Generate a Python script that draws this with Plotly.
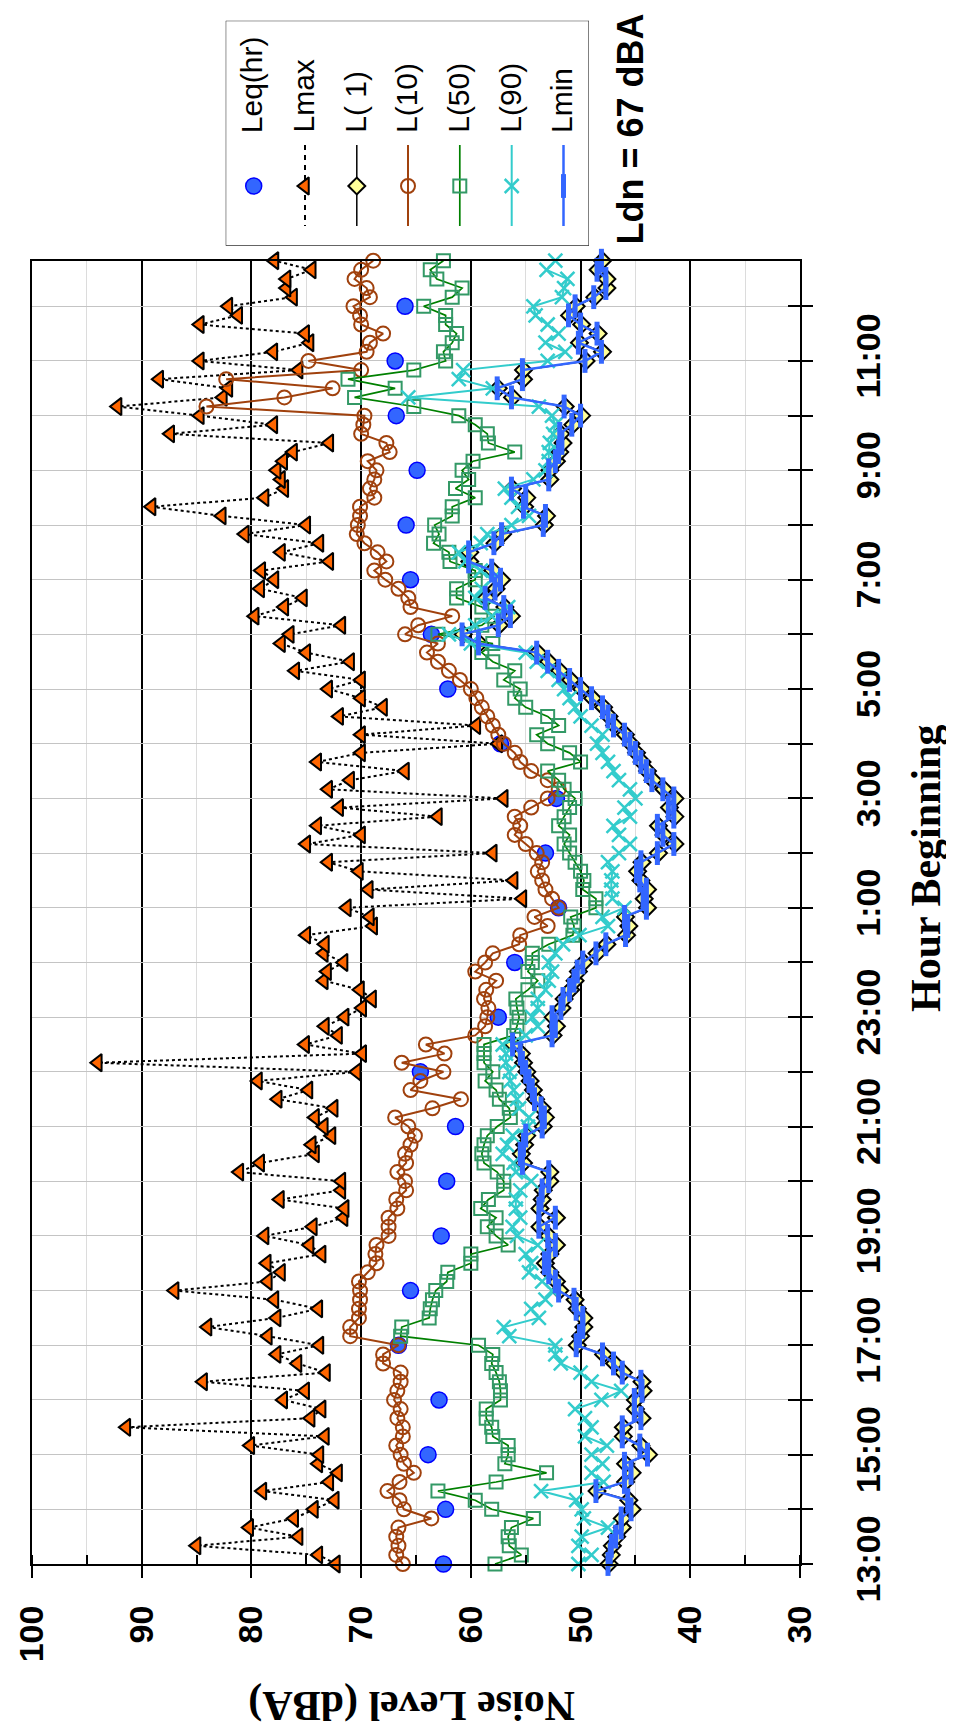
import plotly.graph_objects as go

# ---------------- data ----------------
hour_labels = ["13:00", "15:00", "17:00", "19:00", "21:00", "23:00",
               "1:00", "3:00", "5:00", "7:00", "9:00", "11:00"]
n_int = 144                      # 10-minute intervals, 13:00 .. 12:50
t_int = [k / 6 for k in range(n_int)]   # hours after 13:00
t_hour = list(range(24))

leq = [62.5, 62.3, 63.9, 62.9, 66.6, 65.5, 62.7, 62.2, 61.4, 64.6, 57.5, 56.0,
       52.0, 53.2, 52.2, 57.3, 62.1, 63.6, 65.5, 65.9, 64.9, 66.8, 66.9, 66.0]

lmax = [72.3, 73.9, 85.0, 75.7, 80.2, 76.1, 74.3, 72.4, 79.0, 72.9, 72.1, 73.9,
        73.8, 80.1, 73.3, 91.4, 74.6, 73.6, 77.1, 75.1, 84.4, 73.2, 75.8,
        77.7, 73.8, 78.5, 84.0, 77.7, 73.9, 77.9, 87.0, 78.5, 77.3, 78.6, 73.6,
        74.7, 78.8, 74.4, 71.6, 71.5, 77.4, 71.8, 71.8, 81.1, 79.2, 74.2, 74.5,
        72.7, 73.4, 74.2, 72.5, 77.6, 74.8, 79.4, 70.4, 94.0, 69.9, 75.1, 72.1,
        73.3, 71.5, 69.9, 69.0, 70.1, 73.4, 73.1, 71.6, 73.4, 73.3, 75.0, 68.9,
        69.2, 71.3, 55.3, 69.3, 56.1, 70.2,
        73.0, 58.0, 75.0, 70.0, 74.0, 63.0, 72.0, 57.0, 73.0, 71.0, 66.0, 74.0,
        70.0, 57.5, 70.0, 59.5, 72.0, 68.0, 70.0, 73.0, 70.0, 76.0, 71.0, 75.0,
        77.3, 76.5, 71.8, 79.7, 77.0, 75.3, 79.2, 77.9, 79.1, 72.9, 77.3, 73.8,
        80.6, 75.0, 82.7, 89.1, 78.8, 77.0, 77.3, 77.7, 77.1, 76.2, 72.9, 87.4,
        78.0, 84.7, 92.2, 82.6, 82.1, 88.4, 75.7, 84.7, 78.0, 74.7, 75.1, 84.7,
        81.2, 82.1, 76.2, 76.8, 76.8, 74.5, 77.9]

l10 = [66.2, 66.8, 66.6, 66.8, 66.6, 63.6, 66.1, 66.5, 67.6, 66.5, 65.2, 66.1,
       66.4, 66.8, 66.2, 66.2, 66.7, 66.4, 67.0, 66.7, 66.4, 66.4, 68.0,
       68.0, 66.6, 71.0, 71.0, 70.2, 70.2, 70.1, 70.1, 70.2, 69.4, 68.6, 68.7,
       68.6, 67.5, 67.5, 67.5, 66.7, 66.8, 65.9, 66.0, 66.7, 65.9, 66.0, 65.5,
       65.1, 65.7, 66.9, 63.5, 60.9, 65.5, 64.6, 62.5, 66.3, 62.4, 64.1, 59.6,
       58.7, 58.5, 58.4, 58.8, 58.6, 57.7, 59.6, 58.7, 58.0, 55.6, 55.5, 53.0,
       54.2, 52.0, 52.6, 53.2, 53.5, 53.9,
       53.5, 54.0, 55.0, 56.0, 55.5, 56.0, 54.5, 53.0, 52.0, 53.0, 54.5, 55.5,
       56.0, 57.0, 57.5, 58.0, 58.5, 59.0, 59.5, 60.0, 61.0, 62.0, 63.0, 64.0,
       63.0, 66.0, 64.8, 61.7, 65.5, 65.7, 66.6, 67.8, 68.8, 67.7, 68.5, 69.7,
       70.4, 70.3, 70.1, 70.1, 68.8, 69.2, 68.8, 68.6, 69.4, 67.4, 67.7, 70.0,
       69.8, 69.7, 84.1, 77.0, 72.6, 82.3, 70.0, 74.8, 69.5, 69.2, 68.0, 70.0,
       70.1, 70.7, 69.2, 69.5, 70.6, 70.0, 68.9]

l50 = [57.8, 55.4, 56.5, 56.6, 56.3, 54.3, 58.1, 59.6, 63.0, 57.7, 53.1, 56.9,
       56.6, 56.6, 58.0, 58.1, 58.6, 58.6, 57.3, 57.3, 57.4, 57.7, 58.1,
       58.0, 59.3, 66.4, 66.3, 63.8, 63.7, 63.5, 63.2, 62.2, 62.1, 60.0, 60.0,
       56.6, 57.7, 58.5, 57.7, 59.1, 58.4, 57.0, 57.0, 57.6, 58.8, 59.0, 58.8,
       58.5, 57.6, 56.4, 56.5, 57.4, 57.7, 58.7, 58.0, 58.8, 58.8, 58.8, 56.1,
       55.8, 55.6, 55.8, 55.9, 54.8, 53.9, 54.8, 54.4, 54.4, 52.9, 50.7, 50.6,
       50.9, 48.6, 48.6, 49.8, 49.7, 50.0,
       50.5, 51.0, 51.5, 51.0, 52.0, 51.5, 51.0, 50.5, 51.5, 52.0, 53.0, 50.0,
       51.0, 53.0, 54.0, 52.0, 53.0, 55.0, 56.0, 55.5, 57.0, 56.0, 58.0, 59.0,
       58.0, 63.0, 59.0, 57.9, 59.0, 61.3, 61.3, 59.6, 59.6, 61.9, 62.0, 63.4,
       62.9, 63.3, 61.7, 61.7, 59.6, 61.4, 60.2, 60.8, 59.8, 56.0, 58.4, 58.5,
       59.6, 61.1, 65.2, 70.6, 66.9, 71.2, 65.2, 62.3, 62.5, 61.7, 61.3, 62.3,
       62.3, 64.3, 61.7, 60.8, 63.1, 63.7, 62.5]

l90 = [50.2, 49.0, 50.2, 49.9, 47.5, 49.7, 49.9, 50.4, 53.6, 47.9, 49.0, 48.0,
       49.0, 47.6, 49.6, 49.0, 49.6, 50.5, 48.1, 46.3, 49.0, 50.0, 51.8,
       52.3, 52.3, 56.5, 57.0, 53.8, 54.5, 53.2, 52.6, 53.5, 54.7, 54.5, 55.0,
       53.9, 55.8, 56.2, 55.5, 55.9, 55.9, 55.5, 54.5, 55.9, 56.1, 57.1, 56.7,
       56.2, 54.8, 54.7, 55.6, 55.8, 56.1, 56.4, 56.5, 56.8, 56.8, 57.1, 55.0,
       53.9, 54.4, 53.9, 53.9, 53.2, 52.9, 52.6, 52.9, 52.3, 51.6, 50.1, 47.5,
       48.0, 46.0, 47.1, 47.2, 47.2, 47.1,
       47.5, 46.5, 45.5, 46.5, 47.0, 45.5, 46.0, 45.0, 45.5, 46.5, 47.0, 47.5,
       48.0, 48.5, 48.0, 49.0, 50.0, 50.5, 51.0, 51.5, 52.0, 53.0, 54.0, 55.0,
       60.0, 62.0, 59.6, 58.1, 56.6, 59.6, 59.0, 58.1, 59.1, 60.5, 61.1, 59.1,
       58.5, 56.3, 54.7, 55.7, 56.3, 56.9, 54.3, 53.2, 52.9, 52.9, 52.8, 52.5,
       52.3, 52.6, 53.8, 65.7, 58.0, 61.1, 60.7, 53.0, 51.4, 53.2, 52.0, 53.0,
       54.1, 54.3, 51.7, 51.5, 51.2, 53.1, 52.3]

lmin = [47.5, 47.3, 47.2, 46.8, 46.3, 46.3, 45.4, 45.7, 48.6, 46.0, 45.4, 46.0,
        43.9, 44.6, 46.2, 46.2, 44.5, 45.1, 45.1, 44.4, 44.5, 46.2, 47.0,
        48.0, 50.4, 50.1, 49.8, 49.8, 50.4, 50.6, 52.0, 52.3, 52.9, 53.3, 52.9,
        52.3, 53.0, 53.8, 52.3, 53.8, 53.6, 53.5, 52.9, 52.9, 55.3, 55.5, 55.2,
        55.0, 53.5, 53.3, 53.6, 54.2, 54.4, 54.7, 55.0, 55.3, 55.5, 56.2, 52.6,
        52.3, 52.6, 51.8, 51.6, 51.0, 50.6, 50.3, 49.8, 48.6, 47.7, 45.9, 45.7,
        46.0, 44.0, 44.3, 44.0, 44.6, 44.9,
        44.5, 43.0, 41.5, 42.5, 43.0, 41.5, 42.0, 41.5, 42.5, 43.5, 44.0, 44.5,
        45.0, 45.5, 46.0, 47.0, 47.5, 48.0, 49.0, 50.0, 51.0, 52.0, 53.0, 54.0,
        59.3, 60.8, 57.5, 56.4, 57.0, 58.7, 57.8, 57.3, 58.1, 60.2, 60.2, 57.9,
        57.2, 53.4, 53.2, 55.2, 55.0, 56.3, 52.9, 52.9, 52.3, 52.0, 51.7, 51.9,
        50.8, 50.0, 51.5, 56.3, 57.6, 55.3, 55.3, 49.6, 48.1, 50.2, 48.5, 50.0,
        51.1, 50.5, 48.8, 47.7, 47.7, 48.5, 48.1]

# L(1) markers sit on top of Lmin in the source chart
l1 = [47.4, 47.2, 47.1, 46.7, 46.2, 46.2, 45.3, 45.6, 48.5, 45.9, 45.3, 45.9,
      43.8, 44.5, 46.1, 46.1, 44.4, 45.0, 45.0, 44.3, 44.4, 46.1, 46.9,
      47.9, 50.3, 50.0, 49.7, 49.7, 50.3, 50.5, 51.9, 52.2, 52.8, 53.2, 52.8,
      52.2, 52.9, 53.7, 52.2, 53.7, 53.5, 53.4, 52.8, 52.8, 55.2, 55.4, 55.1,
      54.9, 53.4, 53.2, 53.5, 54.1, 54.3, 54.6, 54.9, 55.2, 55.4, 56.1, 52.5,
      52.2, 52.5, 51.7, 51.5, 50.9, 50.5, 50.2, 49.7, 48.5, 47.6, 45.8, 45.6,
      45.9, 43.9, 44.2, 43.9, 44.5, 44.8,
      44.4, 42.9, 41.4, 42.4, 42.9, 41.4, 41.9, 41.4, 42.4, 43.4, 43.9, 44.4,
      44.9, 45.4, 45.9, 46.9, 47.4, 47.9, 48.9, 49.9, 50.9, 51.9, 52.9, 53.9,
      59.2, 60.7, 57.4, 56.3, 56.9, 58.6, 57.7, 57.2, 58.0, 60.1, 60.1, 57.8,
      57.1, 53.3, 53.1, 55.1, 54.9, 56.2, 52.8, 52.8, 52.2, 51.9, 51.6, 51.8,
      50.7, 49.9, 51.4, 56.2, 57.5, 55.2, 55.2, 49.5, 48.0, 50.1, 48.4, 49.9,
      51.0, 50.4, 48.7, 47.6, 47.6, 48.4, 48.0]

db_ticks = [100, 90, 80, 70, 60, 50, 40, 30]
legend_names = ["Leq(hr)", "Lmax", "L( 1)", "L(10)", "L(50)", "L(90)", "Lmin"]

# ---------------- styles ----------------
W, H = 954, 1729
PL, PR, PT, PB = 24, 792, 252.7, 1556
SANS = "Liberation Sans, Arial, sans-serif"
SERIF = "Liberation Serif, Times New Roman, serif"

C_LEQ, C_LEQ_E = "#3366FF", "#0000FF"
C_MAX = "#FF6600"
C_L1 = "#FFFF99"
C_L10 = "#A0410D"
C_L50M, C_L50L = "#339966", "#008000"
C_L90 = "#33CCCC"
C_MIN = "#3366FF"

styles = [
    dict(mode="markers", line=None,
         marker=dict(symbol="circle", size=16, color=C_LEQ, line=dict(color=C_LEQ_E, width=1.5))),
    dict(mode="lines+markers", line=dict(color="black", width=2, dash="dot"),
         marker=dict(symbol="triangle-left", size=15, color=C_MAX, line=dict(color="black", width=2))),
    dict(mode="lines+markers", line=dict(color="black", width=1.5),
         marker=dict(symbol="diamond", size=13, color=C_L1, line=dict(color="black", width=2))),
    dict(mode="lines+markers", line=dict(color=C_L10, width=2),
         marker=dict(symbol="circle-open", size=14, color=C_L10, line=dict(color=C_L10, width=2))),
    dict(mode="lines+markers", line=dict(color=C_L50L, width=1.7),
         marker=dict(symbol="square-open", size=13, color=C_L50M, line=dict(color=C_L50M, width=2))),
    dict(mode="lines+markers", line=dict(color=C_L90, width=2),
         marker=dict(symbol="x-thin-open", size=14, color=C_L90, line=dict(color=C_L90, width=2.5))),
    dict(mode="lines+markers", line=dict(color=C_MIN, width=2.5),
         marker=dict(symbol="line-ns-open", size=17, color=C_MIN, line=dict(color=C_MIN, width=5))),
]
legend_line = [None, dict(color="black", width=2, dash="5px,5px"), styles[2]["line"],
               styles[3]["line"], styles[4]["line"], styles[5]["line"], styles[6]["line"]]

series = [(t_hour, leq), (t_int, lmax), (t_int, l1), (t_int, l10),
          (t_int, l50), (t_int, l90), (t_int, lmin)]

fig = go.Figure()
for (tt, vals), st, name in zip(series, styles, legend_names):
    kw = dict(x=vals, y=tt, mode=st["mode"], marker=st["marker"], name=name,
              showlegend=False, cliponaxis=False, xaxis="x", yaxis="y")
    if st["line"] is not None:
        kw["line"] = st["line"]
    fig.add_trace(go.Scatter(**kw))

# empty trace so the crossing-tick axis is drawn
fig.add_trace(go.Scatter(x=[], y=[], xaxis="x", yaxis="y3", showlegend=False))

# ---------------- manual rotated legend ----------------
LX0, LX1, LY0, LY1 = 217.7, 581.0, 12.7, 237.7
leg_x = [245.7, 297.0, 348.8, 400.0, 451.8, 503.7, 555.5]
for cx, st, ln in zip(leg_x, styles, legend_line):
    if ln is not None:
        fig.add_trace(go.Scatter(x=[cx, cx], y=[137, 218], mode="lines", line=ln,
                                 xaxis="x2", yaxis="y2", showlegend=False, hoverinfo="skip"))
    fig.add_trace(go.Scatter(x=[cx], y=[178], mode="markers", marker=st["marker"],
                             xaxis="x2", yaxis="y2", showlegend=False, hoverinfo="skip",
                             cliponaxis=False))

annotations = []
for cx, name in zip(leg_x, legend_names):
    annotations.append(dict(x=cx - 2, y=127, xref="x2", yref="y2", text=name, showarrow=False,
                            textangle=-90, xanchor="center", yanchor="bottom",
                            font=dict(family=SANS, size=30, color="black")))

annotations += [
    dict(x=622 / W, y=1 - 121.5 / H, xref="paper", yref="paper", text="Ldn = 67 dBA",
         showarrow=False, textangle=-90, xanchor="center", yanchor="middle",
         font=dict(family=SANS, size=36, color="black", weight="bold")),
    dict(x=404 / W, y=1 - 1698 / H, xref="paper", yref="paper", text="Noise Level (dBA)",
         showarrow=False, textangle=180, xanchor="center", yanchor="middle",
         font=dict(family=SERIF, size=42, color="black", weight="bold")),
    dict(x=918 / W, y=1 - 861 / H, xref="paper", yref="paper", text="Hour Beginning",
         showarrow=False, textangle=-90, xanchor="center", yanchor="middle",
         font=dict(family=SERIF, size=42, color="black", weight="bold")),
]

shapes = [dict(type="rect", xref="x2", yref="y2", x0=LX0, x1=LX1, y0=LY0, y1=LY1,
               line=dict(color="black", width=1), fillcolor="rgba(0,0,0,0)", layer="below")]

hour_ticktext = []
for h in t_hour:
    hour_ticktext.append(hour_labels[h // 2] if h % 2 == 0 else "")

tickfont = dict(family=SANS, size=34, color="black", weight="bold")
yrange = [0, t_int[-1]]

fig.update_layout(
    width=W, height=H, autosize=False,
    margin=dict(l=0, r=0, t=0, b=0),
    paper_bgcolor="white", plot_bgcolor="white",
    showlegend=False,
    xaxis=dict(domain=[PL / W, PR / W], range=[100, 30], anchor="y",
               tickmode="array", tickvals=db_ticks, ticktext=[str(v) for v in db_ticks],
               ticks="outside", ticklen=12, tickwidth=1.5, tickcolor="black",
               tickangle=-90, tickfont=tickfont, ticklabelstandoff=14,
               showgrid=True, gridcolor="black", gridwidth=2,
               minor=dict(dtick=5, tick0=0, ticks="inside", ticklen=9, tickwidth=1.5,
                          tickcolor="black", showgrid=True, gridcolor="#DCDCDC", gridwidth=1),
               showline=True, linecolor="black", linewidth=2, mirror=True,
               zeroline=False, automargin=False),
    yaxis=dict(domain=[1 - PB / H, 1 - PT / H], range=yrange, anchor="x", side="right",
               tickmode="array", tickvals=t_hour, ticktext=hour_ticktext,
               ticks="outside", ticklen=11, tickwidth=1.5, tickcolor="black",
               tickangle=-90, tickfont=tickfont, ticklabelstandoff=26,
               showgrid=True, gridcolor="#C4C4C4", gridwidth=1,
               showline=True, linecolor="black", linewidth=2, mirror=True,
               zeroline=False, automargin=False),
    yaxis3=dict(overlaying="y", range=yrange, anchor="x", side="right",
                tickmode="array", tickvals=t_hour, ticks="inside", ticklen=12,
                tickwidth=1.5, tickcolor="black", showticklabels=False,
                showgrid=False, showline=False, zeroline=False, automargin=False),
    xaxis2=dict(domain=[LX0 / W, LX1 / W], range=[LX0, LX1], anchor="y2", visible=False,
                fixedrange=True),
    yaxis2=dict(domain=[1 - LY1 / H, 1 - LY0 / H], range=[LY1, LY0], anchor="x2", visible=False,
                fixedrange=True),
    annotations=annotations,
    shapes=shapes,
)

fig.write_html("out.html")
